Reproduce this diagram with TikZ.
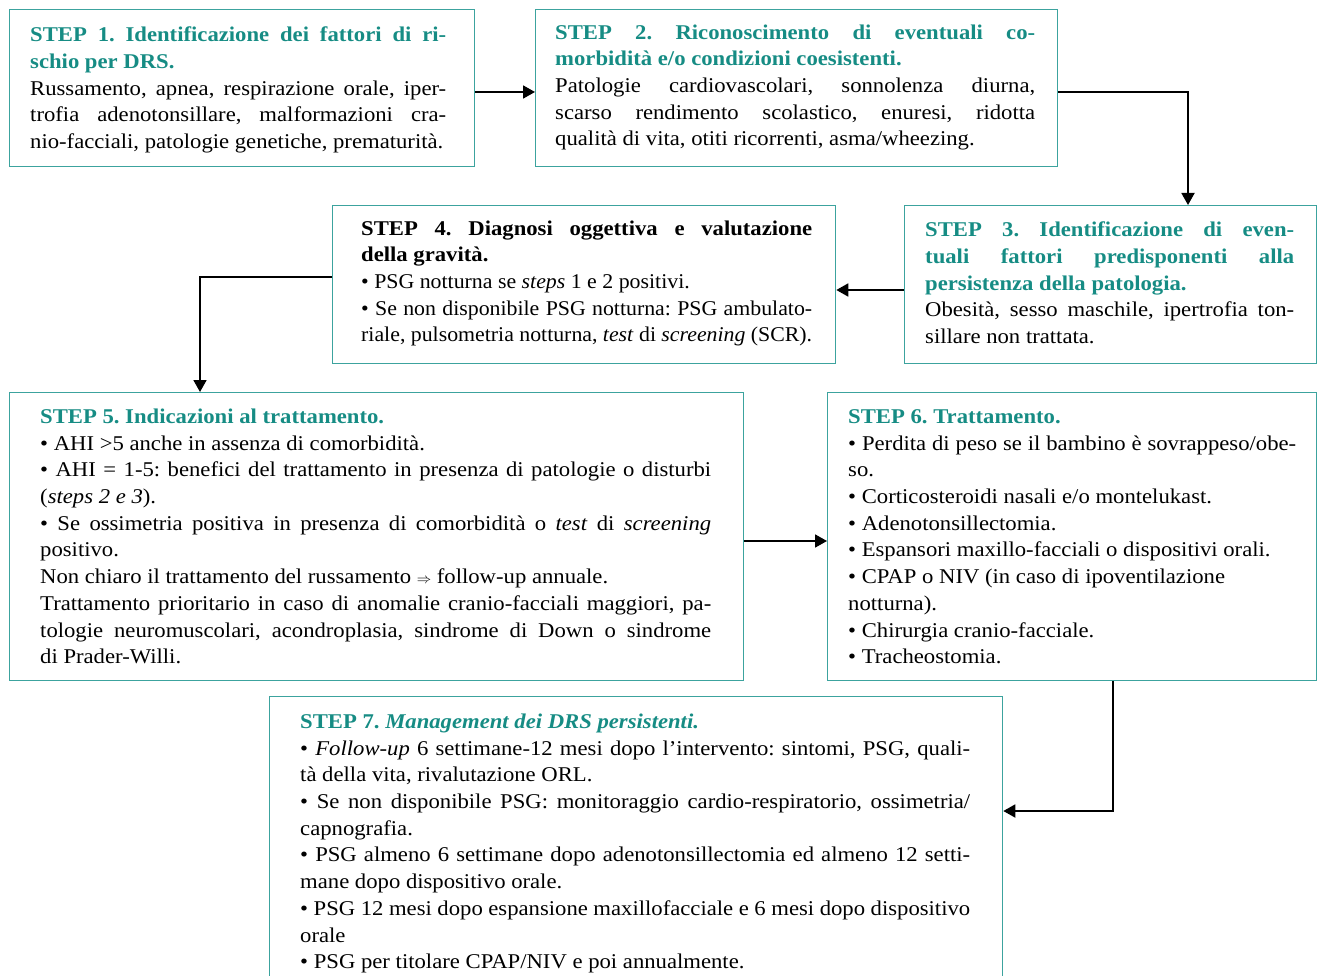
\documentclass[tikz,border=0pt]{standalone}
\usepackage{fontspec}
\setmainfont{Liberation Serif}[FakeStretch=1.08]
\newfontfamily\condf{Liberation Serif}[FakeStretch=1.04]
\usetikzlibrary{arrows.meta}
\definecolor{tl}{RGB}{22,140,132}
\definecolor{bd}{RGB}{60,163,158}
\setlength{\parindent}{0pt}
\setlength{\parskip}{0pt}
\frenchspacing
\tolerance=10000 \hbadness=10000 \hyphenpenalty=10000 \exhyphenpenalty=10000
\newcommand\bodyfs{\fontsize{21}{26.7}\selectfont\frenchspacing}
\newcommand\ttl[1]{{\color{tl}\bfseries #1}}
\newcommand\implarrow{{\fontsize{14}{14}\selectfont$\Rightarrow$}}
\tikzset{
  stepbox/.style={draw=bd, line width=1.3pt, anchor=north west, inner sep=0pt},
  txt/.style={anchor=north west, inner sep=0pt, align=justify, font=\bodyfs},
  conn/.style={line width=1.8pt, -{Triangle[length=12pt,width=13pt]}},
}
\begin{document}
\begin{tikzpicture}[x=1pt,y=-1pt]
\useasboundingbox (0,0) rectangle (1317,976);
% boxes
\node[stepbox, minimum width=465pt, minimum height=157pt] (b1) at (9,9) {};
\node[stepbox, minimum width=522pt, minimum height=157pt] (b2) at (535,9) {};
\node[stepbox, minimum width=412pt, minimum height=158pt] (b3) at (904,205) {};
\node[stepbox, minimum width=503pt, minimum height=158pt] (b4) at (332,205) {};
\node[stepbox, minimum width=734pt, minimum height=288pt] (b5) at (9,392) {};
\node[stepbox, minimum width=489pt, minimum height=288pt] (b6) at (827,392) {};
\node[stepbox, minimum width=733pt, minimum height=320pt] (b7) at (269,696) {};
% texts
\node[txt, text width=416pt] (t1) at (30,23) {\strut\ttl{STEP 1. Identificazione dei fattori di ri-\linebreak schio per DRS.}\par
Russamento, apnea, respirazione orale, iper-\linebreak trofia adenotonsillare, malformazioni cra-\linebreak nio-facciali, patologie genetiche, prematurità.};
\node[txt, text width=480pt] (t2) at (555,20.3) {\strut\ttl{STEP 2. Riconoscimento di eventuali co-\linebreak morbidità e/o condizioni coesistenti.}\par
Patologie cardiovascolari, sonnolenza diurna,\linebreak scarso rendimento scolastico, enuresi, ridotta\linebreak qualità di vita, otiti ricorrenti, asma/wheezing.};
\node[txt, text width=369pt] (t3) at (925,218) {\strut\ttl{STEP 3. Identificazione di even-\linebreak tuali fattori predisponenti alla\linebreak persistenza della patologia.}\par
Obesità, sesso maschile, ipertrofia ton-\linebreak sillare non trattata.};
\node[txt, text width=451pt] (t4) at (361,216.3) {\strut\textbf{STEP 4. Diagnosi oggettiva e valutazione\linebreak della gravità.}\par
{\condf • PSG notturna se \textit{steps} 1 e 2 positivi.\par
• Se non disponibile PSG notturna: PSG ambulato-\linebreak riale, pulsometria notturna, \textit{test} di \textit{screening} (SCR).\par}};
\node[txt, text width=671pt] (t5) at (40,404.6) {\strut\ttl{STEP 5. Indicazioni al trattamento.}\par
• AHI >5 anche in assenza di comorbidità.\par
• AHI = 1-5: benefici del trattamento in presenza di patologie o disturbi\linebreak (\textit{steps 2 e 3}).\par
• Se ossimetria positiva in presenza di comorbidità o \textit{test} di \textit{screening}\linebreak positivo.\par
Non chiaro il trattamento del russamento \implarrow\ follow-up annuale.\par
Trattamento prioritario in caso di anomalie cranio-facciali maggiori, pa-\linebreak tologie neuromuscolari, acondroplasia, sindrome di Down o sindrome\linebreak di Prader-Willi.};
\node[txt, text width=448pt] (t6) at (848,404.6) {\strut\ttl{STEP 6. Trattamento.}\par
• Perdita di peso se il bambino è sovrappeso/obe-\linebreak so.\par
• Corticosteroidi nasali e/o montelukast.\par
• Adenotonsillectomia.\par
• Espansori maxillo-facciali o dispositivi orali.\par
• CPAP o NIV (in caso di ipoventilazione\par
notturna).\par
• Chirurgia cranio-facciale.\par
• Tracheostomia.};
\node[txt, text width=670pt] (t7) at (300,709.6) {\strut\ttl{STEP 7. \itshape Management dei DRS persistenti.}\par
• \textit{Follow-up} 6 settimane-12 mesi dopo l’intervento: sintomi, PSG, quali-\linebreak tà della vita, rivalutazione ORL.\par
• Se non disponibile PSG: monitoraggio cardio-respiratorio, ossimetria/\linebreak capnografia.\par
• PSG almeno 6 settimane dopo adenotonsillectomia ed almeno 12 setti-\linebreak mane dopo dispositivo orale.\par
• PSG 12 mesi dopo espansione maxillofacciale e 6 mesi dopo dispositivo\linebreak orale\par
• PSG per titolare CPAP/NIV e poi annualmente.};
% connectors
\draw[conn] (b1.east |- 0,92) -- (b2.west |- 0,92);
\draw[conn] (b2.east |- 0,92) -| (1188,0 |- b3.north);
\draw[conn] (b3.west |- 0,290) -- (b4.east |- 0,290);
\draw[conn] (b4.west |- 0,277) -| (200,0 |- b5.north);
\draw[conn] (b5.east |- 0,541) -- (b6.west |- 0,541);
\draw[conn] (b6.south -| 1113,0) |- (b7.east |- 0,811);
\end{tikzpicture}
\end{document}
